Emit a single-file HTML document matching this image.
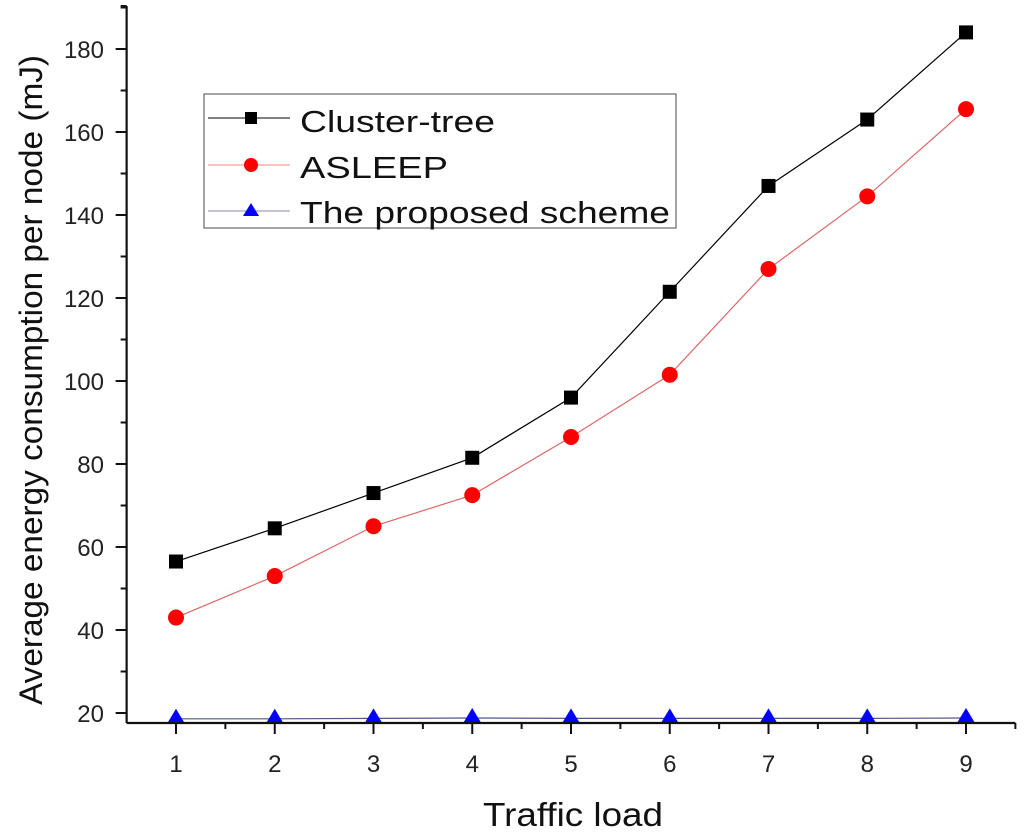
<!DOCTYPE html>
<html><head><meta charset="utf-8"><style>
html,body{margin:0;padding:0;background:#fff;}
svg{display:block;font-family:"Liberation Sans",Arial,sans-serif;}
</style></head><body>
<svg id="chart" width="1024" height="837" viewBox="0 0 1024 837" xmlns="http://www.w3.org/2000/svg">
<g id="plot"></g>
<g id="axes"></g>
<text transform="translate(42,380) rotate(-90)" text-anchor="middle" font-size="32" textLength="650" lengthAdjust="spacingAndGlyphs" fill="#111">Average energy consumption per node (mJ)</text>
<text x="483" y="826" font-size="33" textLength="180" lengthAdjust="spacingAndGlyphs" fill="#111">Traffic load</text>
<g>
<rect x="204" y="94" width="472" height="134" fill="#fff" stroke="#666" stroke-width="1.2"/>
<g>
<line x1="208" y1="118" x2="290" y2="118" stroke="#000" stroke-width="1"/>
<rect x="245" y="112" width="12" height="12" fill="#000"/>
<text x="300" y="132" font-size="31" textLength="195" lengthAdjust="spacingAndGlyphs" fill="#111">Cluster-tree</text></g>
<g>
<line x1="208" y1="165" x2="290" y2="165" stroke="#e88" stroke-width="1"/>
<circle cx="251" cy="165" r="7" fill="#f00"/>
<text x="300" y="178" font-size="31" textLength="148" lengthAdjust="spacingAndGlyphs" fill="#111">ASLEEP</text></g>
<g>
<line x1="208" y1="211" x2="290" y2="211" stroke="#88a" stroke-width="1"/>
<polygon points="251,203 259,216 243,216" fill="#00f"/>
<text x="300" y="223" font-size="31" textLength="370" lengthAdjust="spacingAndGlyphs" fill="#111">The proposed scheme</text></g>
</g>
</svg>
<script>
const categories=[1,2,3,4,5,6,7,8,9];
const clusterTree=[56.5,64.5,73,81.5,96,121.5,147,163,184];
const asleep=[43,53,65,72.5,86.5,101.5,127,144.5,165.5];
const proposed=[18.6,18.6,18.7,18.8,18.7,18.7,18.7,18.7,18.8];
const yTicks=[20,40,60,80,100,120,140,160,180];
const NS="http://www.w3.org/2000/svg";
function xs(v){return 176+(v-1)*98.75;}
function ys(v){return 713-(v-20)*4.15;}
function mk(tag,attrs,parent){const e=document.createElementNS(NS,tag);for(const k in attrs)e.setAttribute(k,attrs[k]);parent.appendChild(e);return e;}
const axes=document.getElementById('axes'),plot=document.getElementById('plot');
const X0=xs(0.5),X1=xs(9.5),Y0=723,YT=6;
let a=mk('line',{x1:X0,y1:Y0,x2:X1,y2:Y0,stroke:'#111','stroke-width':2.2},axes);


a=mk('line',{x1:X0,y1:Y0,x2:X0,y2:YT,stroke:'#111','stroke-width':2.2},axes);


mk('line',{x1:X0-6,y1:YT,x2:X0,y2:YT,stroke:'#111','stroke-width':2},axes);
mk('line',{x1:X1,y1:Y0,x2:X1,y2:Y0+6,stroke:'#111','stroke-width':2},axes);
categories.forEach(c=>{
 mk('line',{x1:xs(c),y1:Y0,x2:xs(c),y2:Y0+11,stroke:'#111','stroke-width':2},axes);
 if(c<9)mk('line',{x1:xs(c+0.5),y1:Y0,x2:xs(c+0.5),y2:Y0+6,stroke:'#111','stroke-width':2},axes);
 const t=mk('text',{x:xs(c),y:772,'text-anchor':'middle','font-size':24,fill:'#222'},axes);
 
 
 t.textContent=c;
});
yTicks.forEach(v=>{
 mk('line',{x1:X0-11,y1:ys(v),x2:X0,y2:ys(v),stroke:'#111','stroke-width':2},axes);
 mk('line',{x1:X0-6,y1:ys(v+10),x2:X0,y2:ys(v+10),stroke:'#111','stroke-width':2},axes);
 const t=mk('text',{x:104,y:ys(v)+9,'text-anchor':'end','font-size':24,fill:'#222'},axes);
 
 
 t.textContent=v;
});
function series(vals,color,lineColor,shape,name){
 const g=mk('g',{},plot);
 
 
 const pl=mk('polyline',{points:vals.map((v,i)=>xs(categories[i])+','+ys(v)).join(' '),fill:'none',stroke:lineColor,'stroke-width':1.2},g);
 
 
 vals.forEach((v,i)=>{
  const x=xs(categories[i]),y=ys(v);let m;
  if(shape==='square')m=mk('rect',{x:x-7,y:y-7,width:14,height:14,fill:color},g);
  else if(shape==='circle')m=mk('circle',{cx:x,cy:y,r:8,fill:color},g);
  else m=mk('polygon',{points:`${x},${y-10} ${x+9},${y+5} ${x-9},${y+5}`,fill:color},g);
  
  
 });
}
series(proposed,'#00f','#558','tri','proposed-scheme');
series(asleep,'#f00','#d66','circle','asleep');
series(clusterTree,'#000','#000','square','cluster-tree');
</script>
</body></html>
